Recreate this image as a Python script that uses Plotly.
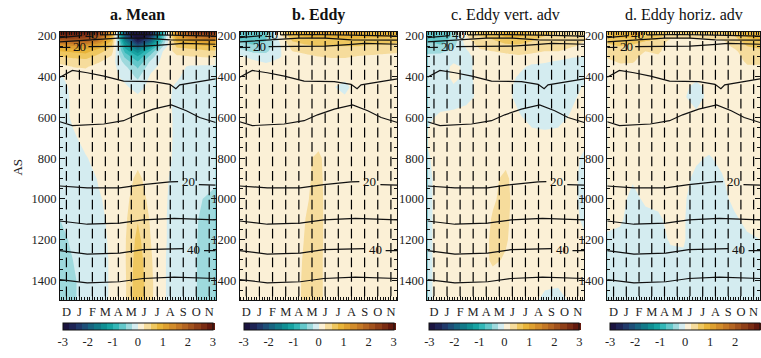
import plotly.graph_objects as go

# ---------------- data ----------------
MONTHS = ["D", "J", "F", "M", "A", "M", "J", "J", "A", "S", "O", "N"]
MONTH_POS = list(range(12))
GRID_X = [-0.5, 0.5, 1.5, 2.5, 3.5, 4.5, 5.5, 6.5, 7.5, 8.5, 9.5, 10.5, 11.5]
GRID_Y = [180, 200, 225, 250, 275, 300, 325, 350, 400, 450, 500, 600, 700,
          800, 900, 1000, 1100, 1200, 1300, 1400, 1500]

MEAN = [
    [3.0, 3.0, 2.9, 2.6, 1.3, -2.2, -3.3, -2.8, -0.8, 1.6, 2.4, 2.7, 2.8],
    [2.6, 2.6, 2.5, 2.1, 0.9, -2.0, -3.2, -2.5, -0.6, 1.2, 1.7, 1.9, 2.0],
    [1.8, 1.9, 1.9, 1.5, 0.7, -1.5, -2.7, -1.9, -0.4, 0.8, 1.0, 1.1, 1.2],
    [1.1, 1.2, 1.2, 0.9, 0.5, -1.1, -2.0, -1.2, -0.2, 0.55, 0.6, 0.7, 0.75],
    [0.75, 0.8, 0.85, 0.6, 0.35, -0.8, -1.4, -0.7, 0.05, 0.35, 0.4, 0.42, 0.45],
    [0.5, 0.55, 0.6, 0.42, 0.22, -0.55, -1.0, -0.4, 0.1, 0.22, 0.25, 0.27, 0.28],
    [0.35, 0.4, 0.4, 0.28, 0.12, -0.35, -0.75, -0.2, 0.1, 0.12, 0.12, 0.12, 0.12],
    [0.15, 0.26, 0.28, 0.15, 0.1, -0.2, -0.55, -0.1, 0.1, 0.08, -0.03, -0.05, -0.05],
    [-0.03, 0.1, 0.12, 0.1, 0.1, -0.08, -0.3, 0.05, 0.1, 0.04, -0.1, -0.1, -0.1],
    [-0.08, 0.05, 0.1, 0.1, 0.1, 0.05, -0.12, 0.1, 0.08, -0.04, -0.1, -0.1, -0.1],
    [-0.1, 0.04, 0.1, 0.1, 0.1, 0.1, 0.05, 0.1, 0.08, -0.06, -0.1, -0.1, -0.1],
    [-0.15, 0.05, 0.1, 0.1, 0.1, 0.1, 0.1, 0.1, 0.1, -0.05, -0.1, -0.1, -0.1],
    [-0.15, -0.05, 0.1, 0.1, 0.1, 0.1, 0.12, 0.1, 0.1, -0.05, -0.1, -0.1, -0.12],
    [-0.15, -0.1, -0.02, 0.1, 0.1, 0.12, 0.18, 0.1, 0.08, -0.05, -0.1, -0.12, -0.15],
    [-0.15, -0.1, -0.1, 0.02, 0.08, 0.15, 0.3, 0.15, 0.05, -0.08, -0.1, -0.15, -0.2],
    [-0.2, -0.15, -0.1, -0.02, 0.06, 0.18, 0.38, 0.18, 0.04, -0.1, -0.15, -0.25, -0.32],
    [-0.25, -0.15, -0.1, -0.05, 0.05, 0.2, 0.48, 0.22, 0.03, -0.1, -0.15, -0.3, -0.4],
    [-0.33, -0.2, -0.12, -0.07, 0.04, 0.22, 0.58, 0.25, 0.03, -0.1, -0.15, -0.32, -0.42],
    [-0.4, -0.25, -0.12, -0.08, 0.03, 0.22, 0.65, 0.28, 0.02, -0.1, -0.15, -0.33, -0.45],
    [-0.45, -0.3, -0.12, -0.08, 0.03, 0.2, 0.7, 0.3, 0.02, -0.1, -0.15, -0.33, -0.45],
    [-0.45, -0.3, -0.12, -0.08, 0.03, 0.2, 0.72, 0.3, 0.02, -0.1, -0.15, -0.33, -0.45],
]

EDDY = [
    [-0.6, -0.7, -0.55, 0.2, 0.9, 1.0, 1.1, 1.1, 1.1, 1.1, 1.0, 1.0, 1.0],
    [-0.6, -0.7, -0.55, 0.1, 0.7, 0.8, 0.85, 0.85, 0.85, 0.85, 0.8, 0.8, 0.75],
    [-0.5, -0.6, -0.5, 0.0, 0.5, 0.6, 0.65, 0.65, 0.65, 0.65, 0.6, 0.6, 0.55],
    [-0.35, -0.45, -0.4, -0.05, 0.35, 0.45, 0.5, 0.5, 0.5, 0.5, 0.45, 0.45, 0.4],
    [-0.15, -0.3, -0.3, -0.05, 0.25, 0.3, 0.35, 0.38, 0.38, 0.35, 0.33, 0.3, 0.28],
    [0.05, -0.1, -0.15, -0.03, 0.15, 0.2, 0.25, 0.28, 0.28, 0.24, 0.22, 0.2, 0.18],
    [0.1, 0.05, -0.04, 0.05, 0.1, 0.15, 0.15, 0.18, 0.18, 0.15, 0.15, 0.12, 0.12],
    [0.1, 0.1, 0.1, 0.1, 0.1, 0.1, 0.1, 0.1, 0.1, 0.1, 0.1, 0.1, 0.1],
    [0.1, 0.1, 0.1, 0.1, 0.1, 0.1, 0.1, 0.08, 0.05, 0.1, 0.1, 0.1, 0.1],
    [0.1, 0.1, 0.1, 0.1, 0.1, 0.1, 0.1, 0.02, -0.06, 0.1, 0.1, 0.1, 0.1],
    [0.1, 0.1, 0.1, 0.1, 0.1, 0.1, 0.1, 0.06, 0.02, 0.1, 0.1, 0.1, 0.1],
    [0.1, 0.1, 0.1, 0.1, 0.1, 0.1, 0.1, 0.1, 0.1, 0.1, 0.1, 0.1, 0.1],
    [0.1, 0.1, 0.1, 0.1, 0.1, 0.1, 0.15, 0.1, 0.1, 0.1, 0.1, 0.1, 0.1],
    [0.1, 0.1, 0.1, 0.1, 0.1, 0.2, 0.3, 0.1, 0.1, 0.1, 0.1, 0.1, 0.1],
    [0.1, 0.1, 0.1, 0.1, 0.1, 0.2, 0.32, 0.1, 0.1, 0.1, 0.1, 0.1, 0.1],
    [0.1, 0.1, 0.1, 0.1, 0.1, 0.22, 0.33, 0.1, 0.1, 0.1, 0.1, 0.1, 0.1],
    [0.1, 0.1, 0.1, 0.1, 0.1, 0.25, 0.33, 0.1, 0.1, 0.1, 0.1, 0.1, 0.1],
    [0.1, 0.1, 0.1, 0.1, 0.1, 0.27, 0.33, 0.1, 0.1, 0.1, 0.1, 0.1, 0.1],
    [0.1, 0.1, 0.1, 0.1, 0.1, 0.3, 0.32, 0.1, 0.1, 0.1, 0.1, 0.1, 0.1],
    [0.1, 0.1, 0.1, 0.1, 0.1, 0.32, 0.32, 0.1, 0.1, 0.1, 0.1, 0.1, 0.1],
    [0.1, 0.1, 0.1, 0.1, 0.1, 0.33, 0.32, 0.1, 0.1, 0.1, 0.1, 0.1, 0.1],
]

VERT = [
    [-0.6, -0.7, -0.45, 0.3, 0.6, 0.7, 0.8, 0.9, 0.7, 0.6, 0.5, 0.4, 0.3],
    [-0.6, -0.7, -0.45, 0.25, 0.5, 0.6, 0.8, 0.8, 0.6, 0.5, 0.45, 0.4, 0.3],
    [-0.5, -0.6, -0.4, 0.15, 0.4, 0.45, 0.6, 0.6, 0.5, 0.4, 0.4, 0.3, 0.25],
    [-0.4, -0.45, -0.3, 0.05, 0.3, 0.35, 0.4, 0.45, 0.4, 0.35, 0.35, 0.28, 0.2],
    [-0.3, -0.3, -0.2, -0.03, 0.2, 0.25, 0.3, 0.33, 0.3, 0.25, 0.25, 0.15, 0.1],
    [-0.2, -0.18, -0.12, -0.05, 0.08, 0.12, 0.18, 0.22, 0.18, 0.12, 0.08, 0.02, 0.0],
    [-0.15, -0.12, -0.02, -0.05, 0.05, 0.1, 0.12, 0.1, 0.05, 0.02, -0.02, -0.05, -0.05],
    [-0.15, -0.1, 0.04, -0.04, 0.05, 0.1, 0.1, 0.05, -0.04, -0.05, -0.08, -0.1, -0.1],
    [-0.15, -0.1, 0.05, -0.04, 0.05, 0.1, 0.08, -0.02, -0.1, -0.1, -0.1, -0.1, -0.06],
    [-0.15, -0.1, -0.02, -0.05, 0.04, 0.1, 0.05, -0.05, -0.1, -0.1, -0.1, -0.08, 0.02],
    [-0.12, -0.1, -0.08, -0.05, 0.04, 0.1, 0.05, -0.05, -0.1, -0.1, -0.1, -0.04, 0.05],
    [-0.04, 0.04, 0.05, 0.08, 0.1, 0.1, 0.1, 0.02, -0.05, -0.06, -0.05, 0.02, 0.05],
    [0.03, 0.1, 0.1, 0.1, 0.1, 0.1, 0.12, 0.1, 0.05, 0.04, 0.05, 0.06, 0.05],
    [-0.03, 0.1, 0.1, 0.1, 0.1, 0.12, 0.18, 0.1, 0.1, 0.1, 0.1, 0.06, -0.03],
    [-0.05, 0.08, 0.1, 0.1, 0.1, 0.2, 0.3, 0.1, 0.1, 0.1, 0.1, 0.05, -0.05],
    [-0.05, 0.08, 0.1, 0.1, 0.1, 0.22, 0.32, 0.12, 0.1, 0.1, 0.1, 0.05, -0.05],
    [-0.05, 0.08, 0.1, 0.1, 0.12, 0.27, 0.3, 0.12, 0.1, 0.1, 0.1, 0.06, -0.03],
    [-0.05, 0.08, 0.1, 0.1, 0.12, 0.3, 0.28, 0.1, 0.1, 0.1, 0.1, 0.08, 0.02],
    [-0.05, 0.08, 0.1, 0.1, 0.12, 0.3, 0.22, 0.1, 0.1, 0.1, 0.08, 0.08, 0.04],
    [-0.05, 0.08, 0.1, 0.1, 0.1, 0.15, 0.12, 0.1, 0.1, 0.05, 0.03, 0.06, 0.05],
    [-0.05, 0.08, 0.1, 0.1, 0.1, 0.12, 0.1, 0.1, 0.05, -0.05, -0.05, 0.02, 0.05],
]

HORIZ = [
    [0.8, 0.9, 0.9, 0.8, 0.7, 0.5, 0.6, 0.6, 0.6, 0.6, 0.7, 0.9, 1.0],
    [0.7, 0.8, 0.8, 0.7, 0.6, 0.35, 0.35, 0.35, 0.35, 0.4, 0.5, 0.8, 0.9],
    [0.55, 0.65, 0.6, 0.5, 0.45, 0.15, 0.15, 0.15, 0.15, 0.2, 0.4, 0.6, 0.7],
    [0.45, 0.5, 0.45, 0.35, 0.35, 0.1, 0.1, 0.1, 0.1, 0.15, 0.3, 0.5, 0.55],
    [0.35, 0.4, 0.35, 0.25, 0.3, 0.1, 0.1, 0.1, 0.1, 0.1, 0.2, 0.4, 0.45],
    [0.28, 0.32, 0.3, 0.2, 0.22, 0.1, 0.1, 0.1, 0.1, 0.1, 0.15, 0.35, 0.35],
    [0.2, 0.28, 0.27, 0.15, 0.15, 0.1, 0.1, 0.1, 0.1, 0.1, 0.1, 0.3, 0.3],
    [0.15, 0.2, 0.2, 0.1, 0.1, 0.1, 0.1, 0.1, 0.1, 0.1, 0.1, 0.22, 0.22],
    [0.1, 0.1, 0.1, 0.1, 0.1, 0.1, 0.1, 0.05, 0.1, 0.1, 0.1, 0.12, 0.12],
    [0.1, 0.1, 0.1, 0.1, 0.1, 0.1, 0.04, -0.05, 0.05, 0.1, 0.1, 0.1, 0.1],
    [0.1, 0.1, 0.1, 0.1, 0.1, 0.1, 0.02, -0.08, 0.05, 0.1, 0.1, 0.1, 0.1],
    [0.1, 0.1, 0.1, 0.1, 0.1, 0.1, 0.1, 0.05, 0.1, 0.1, 0.1, 0.1, 0.1],
    [0.1, 0.1, 0.1, 0.1, 0.1, 0.1, 0.1, 0.1, 0.1, 0.1, 0.1, 0.1, 0.1],
    [0.1, 0.1, 0.1, 0.1, 0.1, 0.1, 0.1, 0.03, -0.02, 0.05, 0.1, 0.1, 0.1],
    [0.1, 0.1, 0.02, 0.1, 0.1, 0.1, 0.06, -0.05, -0.08, -0.02, 0.1, 0.1, 0.1],
    [0.1, 0.06, -0.05, 0.03, 0.05, 0.06, 0.03, -0.1, -0.1, -0.06, 0.05, 0.1, 0.1],
    [0.05, 0.03, -0.08, -0.05, -0.03, 0.05, 0.02, -0.12, -0.12, -0.1, -0.03, 0.05, 0.08],
    [-0.03, -0.05, -0.1, -0.1, -0.06, 0.02, 0.02, -0.12, -0.12, -0.1, -0.08, -0.03, 0.0],
    [-0.06, -0.1, -0.1, -0.1, -0.08, -0.05, -0.03, -0.12, -0.12, -0.12, -0.1, -0.08, -0.06],
    [-0.1, -0.1, -0.1, -0.1, -0.1, -0.1, -0.1, -0.1, -0.1, -0.1, -0.1, -0.1, -0.1],
    [-0.1, -0.1, -0.1, -0.1, -0.1, -0.1, -0.1, -0.1, -0.1, -0.1, -0.1, -0.1, -0.1],
]

PANEL_TITLES = ["<b>a. Mean</b>", "<b>b. Eddy</b>", "c. Eddy vert. adv", "d. Eddy horiz. adv"]
PANEL_FIELDS = [MEAN, EDDY, VERT, HORIZ]

# vertical dash marks (grid of levels)
DASH_LEVELS = [1455, 1384, 1313, 1242, 1171, 1100, 1029, 958, 887, 816, 745,
               674, 603, 532, 461, 390, 319, 248, 186]

# black isolines of the background field (x in months, y in AS), None = label gap
ISO_LINES = [
    ([-0.5, 1.2, None, 2.6, 5, 8, 11.5], [207, 198, None, 194, 192, 195, 200]),
    ([-0.5, 2, 4, 6, 8, 11.5], [228, 218, 210, 210, 218, 220]),
    ([-0.5, 0.3, None, 1.7, 4, 6, 7.5, 9, 11.5], [256, 255, None, 252, 250, 249, 243, 236, 240]),
    ([-0.5, 0, 0.46, 1.6, 2.9, 4.4, 6.7, 7.97, 8.43, 8.73, 10.1, 11.27, 11.5],
     [402, 385, 369, 380, 397, 421, 424, 437, 459, 440, 425, 413, 410]),
    ([-0.5, 0.46, 2.88, 4.4, 5.42, 6.69, 8.09, 9.24, 10.26, 11.22, 11.5],
     [621, 640, 632, 616, 587, 559, 538, 567, 600, 621, 625]),
    ([-0.5, 1.6, 4.1, 5.9, 7.97, 8.6, None, 10.2, 11.5], [937, 946, 946, 930, 917, 916, None, 930, 933]),
    ([-0.5, 1.6, 4.1, 5.9, 8.3, 11.5], [1109, 1125, 1120, 1104, 1096, 1104]),
    ([-0.5, 1.6, 4.1, 5.9, 9.0, None, 10.6, 11.5], [1255, 1272, 1267, 1250, 1245, None, 1255, 1255]),
    ([-0.5, 1.6, 4.1, 5.9, 8.3, 11.5], [1397, 1413, 1408, 1392, 1385, 1392]),
]
ISO_LABELS = [("40", 1.9, 190), ("20", 1.0, 252), ("20", 9.4, 917), ("40", 9.8, 1250)]

CBAR_TICKS = [-3, -2, -1, 0, 1, 2, 3]
CBAR_TEXT = ["-3", "-2", "-1", "0", "1", "2", "3"]

BAND_COLORS = [
    "#1b1440", "#1e2455", "#20396a", "#1d4f78", "#176581", "#127a89",
    "#108f93", "#17a3a2", "#33b7b7", "#63c7ca", "#9ed9dd", "#d4ecf0",
    "#fbf0d6", "#f6dc9c", "#efc75f", "#e8b43a", "#dea030", "#d28c2b",
    "#c47826", "#b46522", "#a2521d", "#8f3f18", "#7a2c13", "#641a0e",
]

# ---------------- styling / layout ----------------
W, H = 761, 358
FONT = "Liberation Serif"
PANEL_PX = [(60, 216), (240, 398), (428, 585), (608, 761)]
CBAR_PX = [(63, 213), (244, 394), (430, 580), (611, 761)]
TOP_PX, BOT_PX = 29.3, 300.0

cols = [BAND_COLORS[0]] + BAND_COLORS + [BAND_COLORS[-1]]
n = len(cols) - 1
colorscale = []
for i, c in enumerate(cols):
    colorscale.append([max(0.0, (i - 0.5) / n), c])
    colorscale.append([min(1.0, (i + 0.5) / n), c])

fig = go.Figure()
layout = dict(
    width=W, height=H, margin=dict(l=0, r=0, t=0, b=0),
    paper_bgcolor="white", plot_bgcolor="white", showlegend=False,
    font=dict(family=FONT, size=12.5, color="#222"),
)
annotations = []

for p in range(4):
    sfx = "" if p == 0 else str(p + 1)
    xa, ya = "x" + sfx, "y" + sfx
    x0, x1 = PANEL_PX[p]
    c0, c1 = CBAR_PX[p]
    fig.add_trace(go.Contour(
        x=GRID_X, y=GRID_Y, z=PANEL_FIELDS[p], xaxis=xa, yaxis=ya,
        colorscale=colorscale, zmin=-3, zmax=3, autocontour=False,
        contours=dict(start=-3, end=3, size=0.25, coloring="fill", showlines=False),
        line=dict(width=0, smoothing=0),
        showscale=True, hoverinfo="skip",
        colorbar=dict(
            orientation="h", x=(c0 + c1) / 2 / W, xanchor="center",
            y=(H - 333.5) / H, yanchor="middle",
            len=c1 - c0, lenmode="pixels", thickness=7, thicknessmode="pixels",
            outlinewidth=1, outlinecolor="#111", xpad=0, ypad=0,
            tickmode="array", tickvals=CBAR_TICKS, ticktext=CBAR_TEXT,
            ticks="", tickfont=dict(family=FONT, size=12.5, color="#222"),
        ),
    ))
    # dash marks
    dx, dy = [], []
    for lev in DASH_LEVELS:
        for m in MONTH_POS:
            dx.append(m)
            dy.append(lev)
    fig.add_trace(go.Scatter(
        x=dx, y=dy, xaxis=xa, yaxis=ya, mode="markers", hoverinfo="skip",
        marker=dict(symbol="line-ns", size=7, color="black",
                    line=dict(width=1.2, color="black")),
    ))
    for lx, ly in ISO_LINES:
        fig.add_trace(go.Scatter(
            x=lx, y=ly, xaxis=xa, yaxis=ya, mode="lines", hoverinfo="skip",
            line=dict(color="#111", width=1.2), connectgaps=False,
        ))
    for txt, lx, ly in ISO_LABELS:
        annotations.append(dict(
            x=lx, y=ly, xref=xa, yref=ya, text=txt, showarrow=False,
            xanchor="center", yanchor="middle",
            font=dict(family=FONT, size=13, color="#111"),
        ))
    annotations.append(dict(
        x=(x0 + x1) / 2 / W, y=(H - 12) / H, xref="paper", yref="paper",
        text=PANEL_TITLES[p], showarrow=False, xanchor="center", yanchor="middle",
        font=dict(family=FONT, size=16, color="#111"),
    ))
    axis_common = dict(
        showline=True, linecolor="#111", linewidth=1, mirror="allticks",
        ticks="inside", tickcolor="#111", showgrid=False, zeroline=False,
        tickfont=dict(family=FONT, size=12.5, color="#222"),
    )
    layout["xaxis" + sfx] = dict(
        axis_common, domain=[x0 / W, min(1.0, x1 / W)], anchor=ya,
        range=[-0.5, 11.5], tickmode="array", tickvals=MONTH_POS, ticktext=MONTHS,
        ticklen=4, minor=dict(dtick=0.2, tick0=0, ticklen=3, ticks="inside", tickcolor="#111"),
    )
    layout["yaxis" + sfx] = dict(
        axis_common, domain=[(H - BOT_PX) / H, (H - TOP_PX) / H], anchor=xa,
        range=[1500, 180], tickmode="array", tickvals=[200, 400, 600, 800, 1000, 1200, 1400],
        ticklen=5, minor=dict(dtick=50, tick0=0, ticklen=3, ticks="inside", tickcolor="#111"),
    )

annotations.append(dict(
    x=18 / W, y=(H - 165) / H, xref="paper", yref="paper", text="AS",
    textangle=-90, showarrow=False, xanchor="center", yanchor="middle",
    font=dict(family=FONT, size=13, color="#222"),
))
layout["annotations"] = annotations
fig.update_layout(**layout)
fig.write_html("out.html")
